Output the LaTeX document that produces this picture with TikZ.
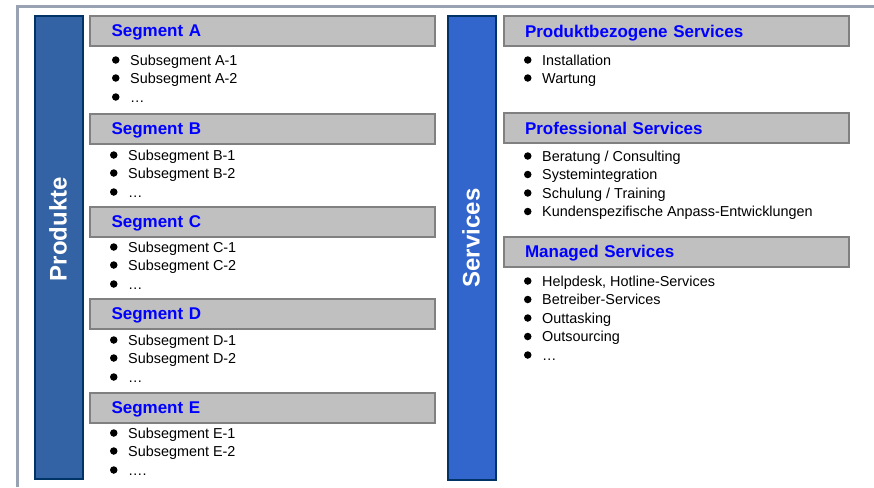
\documentclass[tikz,border=0pt]{standalone}
\usepackage{fontspec}
\setmainfont{Liberation Sans}
\definecolor{framegray}{RGB}{152,162,178}
\definecolor{headgray}{RGB}{192,192,192}
\definecolor{headline}{RGB}{128,128,128}
\definecolor{prodblue}{RGB}{51,99,165}
\definecolor{servblue}{RGB}{51,102,204}
\definecolor{barline}{RGB}{0,51,102}
\definecolor{titleblue}{RGB}{0,0,255}

\begin{document}
\begin{tikzpicture}[x=1pt,y=-1pt]
	 \tikzstyle{bar}=[draw=barline,line width=2pt,anchor=north west,minimum width=48pt,minimum height=463pt,inner sep=0pt]
	 \tikzstyle{bar title}=[text=white,font=\fontsize{24}{28}\selectfont\bfseries,rotate=90]
	 \tikzstyle{header}=[draw=headline,fill=headgray,line width=2pt,anchor=north west,minimum width=345pt,minimum height=30pt,inner xsep=22pt,inner ysep=0pt,text width=301pt,text depth=0pt,align=left,text=titleblue,font=\fontsize{17}{20}\selectfont\bfseries]
	 \tikzstyle{right header}=[header,inner xsep=21pt,text width=303pt]
	 \tikzstyle{dot}=[circle,fill=black,inner sep=0pt,minimum size=7.5pt]
	 \tikzstyle{item}=[anchor=west,inner sep=0pt,text height=10pt,text depth=0pt,font=\fontsize{14.4}{17}\selectfont,label={[dot,label distance=10.3pt]west:{}}]

	\useasboundingbox (0,0) rectangle (874,487);

	% frame
	\coordinate (fb) at (17,487);
	\coordinate (fc) at (17,6.5);
	\coordinate (fr) at (874,6.5);
	\draw[framegray,line width=3pt] (fb) -- (fc) -- (fr);

	% Produkte
	\node[bar,fill=prodblue] (prod) at (34,15) {};
	\node[bar title] (prodtitle) at (58,229) {Produkte};

	\foreach \s/\hy/\bx/\iy/\last in {A/15/130/60/…, B/113/128/155/…, C/206/128/247/…, D/298/128/340/…, E/392/128/433/….}{
		\node[header] (seg\s) at (88.5,\hy) {Segment \s};
		\node[item] (\s1) at (\bx,\iy) {Subsegment \s-1};
		\node[item] (\s2) at (\bx,\iy+18) {Subsegment \s-2};
		\node[item] (\s3) at (\bx,\iy+37) {\last};
	}

	% Services
	\node[bar,fill=servblue] (serv) at (447,15.5) {};
	\node[bar title] (servtitle) at (471,238) {Services};

	\node[right header] (pbs) at (503,15) {Produktbezogene Services};
	\node[item] (pbs1) at (542,60) {Installation};
	\node[item] (pbs2) at (542,78) {Wartung};

	\node[right header] (pro) at (503,112) {Professional Services};
	\foreach \t [count=\i] in {Beratung / Consulting, Systemintegration, Schulung / Training, Kundenspezifische Anpass-Entwicklungen}
		\node[item] (pro\i) at (542,{156+18.5*(\i-1)}) {\t};

	\node[right header] (man) at (503,235.5) {Managed Services};
	\foreach \t [count=\i] in {{Helpdesk, Hotline-Services}, Betreiber-Services, Outtasking, Outsourcing, …}
		\node[item] (man\i) at (542,{281+18.5*(\i-1)}) {\t};
\end{tikzpicture}
\end{document}
